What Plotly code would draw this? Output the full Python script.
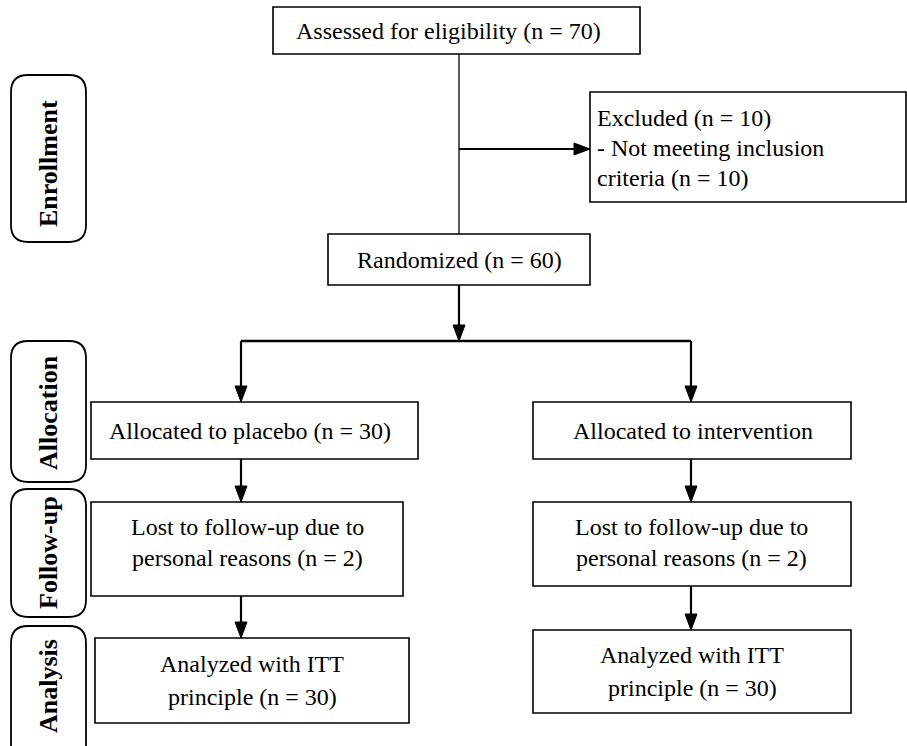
import plotly.graph_objects as go

# ---------------- data ----------------
stage_labels = ["Enrollment", "Allocation", "Follow-up", "Analysis"]
assessed_n = 70
excluded_n = 10
randomized_n = 60
placebo_n = 30
lost_n = [2, 2]
analyzed_n = [30, 30]

box_lines = {
    "assessed": [f"Assessed for eligibility (n = {assessed_n})"],
    "excluded": [f"Excluded (n = {excluded_n})", "- Not meeting inclusion",
                 f"criteria (n = {excluded_n})"],
    "randomized": [f"Randomized (n = {randomized_n})"],
    "placebo": [f"Allocated to placebo (n = {placebo_n})"],
    "intervention": ["Allocated to intervention"],
    "lost_p": ["Lost to follow-up due to", f"personal reasons (n = {lost_n[0]})"],
    "lost_i": ["Lost to follow-up due to", f"personal reasons (n = {lost_n[1]})"],
    "itt_p": ["Analyzed with ITT", f"principle (n = {analyzed_n[0]})"],
    "itt_i": ["Analyzed with ITT", f"principle (n = {analyzed_n[1]})"],
}

# ---------------- layout geometry (pixels) ----------------
W, H = 907, 746
boxes = {
    "assessed": (273, 7, 640, 54),
    "excluded": (590, 92, 906, 202),
    "randomized": (328, 234, 590, 285),
    "placebo": (91, 402, 418, 459),
    "intervention": (533, 402, 851, 459),
    "lost_p": (91, 502, 403, 596),
    "lost_i": (533, 502, 851, 586),
    "itt_p": (95, 638, 409, 723),
    "itt_i": (533, 630, 851, 713),
}
# text anchor: (x, first line y, line spacing, align)
text_pos = {
    "assessed": (448, 31, 0, "center"),
    "excluded": (595, 118, 30, "left"),
    "randomized": (459, 260, 0, "center"),
    "placebo": (250, 431, 0, "center"),
    "intervention": (693, 431, 0, "center"),
    "lost_p": (247, 527, 31, "center"),
    "lost_i": (691, 527, 31, "center"),
    "itt_p": (252, 664, 33, "center"),
    "itt_i": (692, 655, 33, "center"),
}
stage_boxes = [(11, 75, 86, 242), (11, 341, 86, 482), (11, 489, 86, 617), (11, 626, 86, 762)]
stage_text_x = 48
stage_text_y = [164, 413, 553, 686]

plain_lines = [((459, 54), (459, 234), 1.3), ((241, 341), (691, 341), 2.5)]
arrows = [((459, 149), (590, 149)), ((459, 285), (459, 341)),
          ((241, 341), (241, 402)), ((691, 341), (691, 402)),
          ((241, 459), (241, 502)), ((691, 459), (691, 502)),
          ((241, 596), (241, 638)), ((691, 586), (691, 630))]
HEAD_L, HEAD_W = 16, 12

FONT = "Liberation Serif"
FS = 24
FS_STAGE = 26

fig = go.Figure()
shapes = []
annotations = []

for key, (x0, y0, x1, y1) in boxes.items():
    shapes.append(dict(type="rect", x0=x0, y0=y0, x1=x1, y1=y1,
                       line=dict(color="black", width=1.6), fillcolor="white", layer="below"))
    tx, ty, dy, al = text_pos[key]
    for i, line in enumerate(box_lines[key]):
        annotations.append(dict(x=tx, y=ty + i * dy, text=line, showarrow=False,
                                xanchor="left" if al == "left" else "center",
                                yanchor="middle",
                                font=dict(family=FONT, size=FS, color="black")))

r = 17
for (x0, y0, x1, y1), lab, ty in zip(stage_boxes, stage_labels, stage_text_y):
    path = (f"M{x0+r},{y0} L{x1-r},{y0} Q{x1},{y0} {x1},{y0+r} L{x1},{y1-r} "
            f"Q{x1},{y1} {x1-r},{y1} L{x0+r},{y1} Q{x0},{y1} {x0},{y1-r} "
            f"L{x0},{y0+r} Q{x0},{y0} {x0+r},{y0} Z")
    shapes.append(dict(type="path", path=path, line=dict(color="black", width=1.8),
                       fillcolor="white"))
    annotations.append(dict(x=stage_text_x, y=ty, text=f"<b>{lab}</b>", showarrow=False,
                            textangle=-90, xanchor="center", yanchor="middle",
                            font=dict(family=FONT, size=FS_STAGE, color="black")))

for (a, b, w) in plain_lines:
    shapes.append(dict(type="line", x0=a[0], y0=a[1], x1=b[0], y1=b[1],
                       line=dict(color="black", width=w)))

for (a, b) in arrows:
    dx, dy = b[0] - a[0], b[1] - a[1]
    n = (dx * dx + dy * dy) ** 0.5
    ux, uy = dx / n, dy / n
    bx, by = b[0] - ux * HEAD_L, b[1] - uy * HEAD_L
    shapes.append(dict(type="line", x0=a[0], y0=a[1], x1=bx, y1=by,
                       line=dict(color="black", width=2.2)))
    px, py = -uy * HEAD_W / 2, ux * HEAD_W / 2
    shapes.append(dict(type="path",
                       path=f"M{b[0]},{b[1]} L{bx+px},{by+py} L{bx-px},{by-py} Z",
                       fillcolor="black", line=dict(color="black", width=1)))

fig.update_layout(
    width=W, height=H, margin=dict(l=0, r=0, t=0, b=0),
    plot_bgcolor="white", paper_bgcolor="white",
    xaxis=dict(range=[0, W], visible=False, fixedrange=True),
    yaxis=dict(range=[H, 0], visible=False, fixedrange=True),
    shapes=shapes, annotations=annotations, showlegend=False,
)

fig.write_html("out.html", config={"displayModeBar": False},
               post_script="document.body.style.margin='0';document.body.style.overflow='hidden';")
